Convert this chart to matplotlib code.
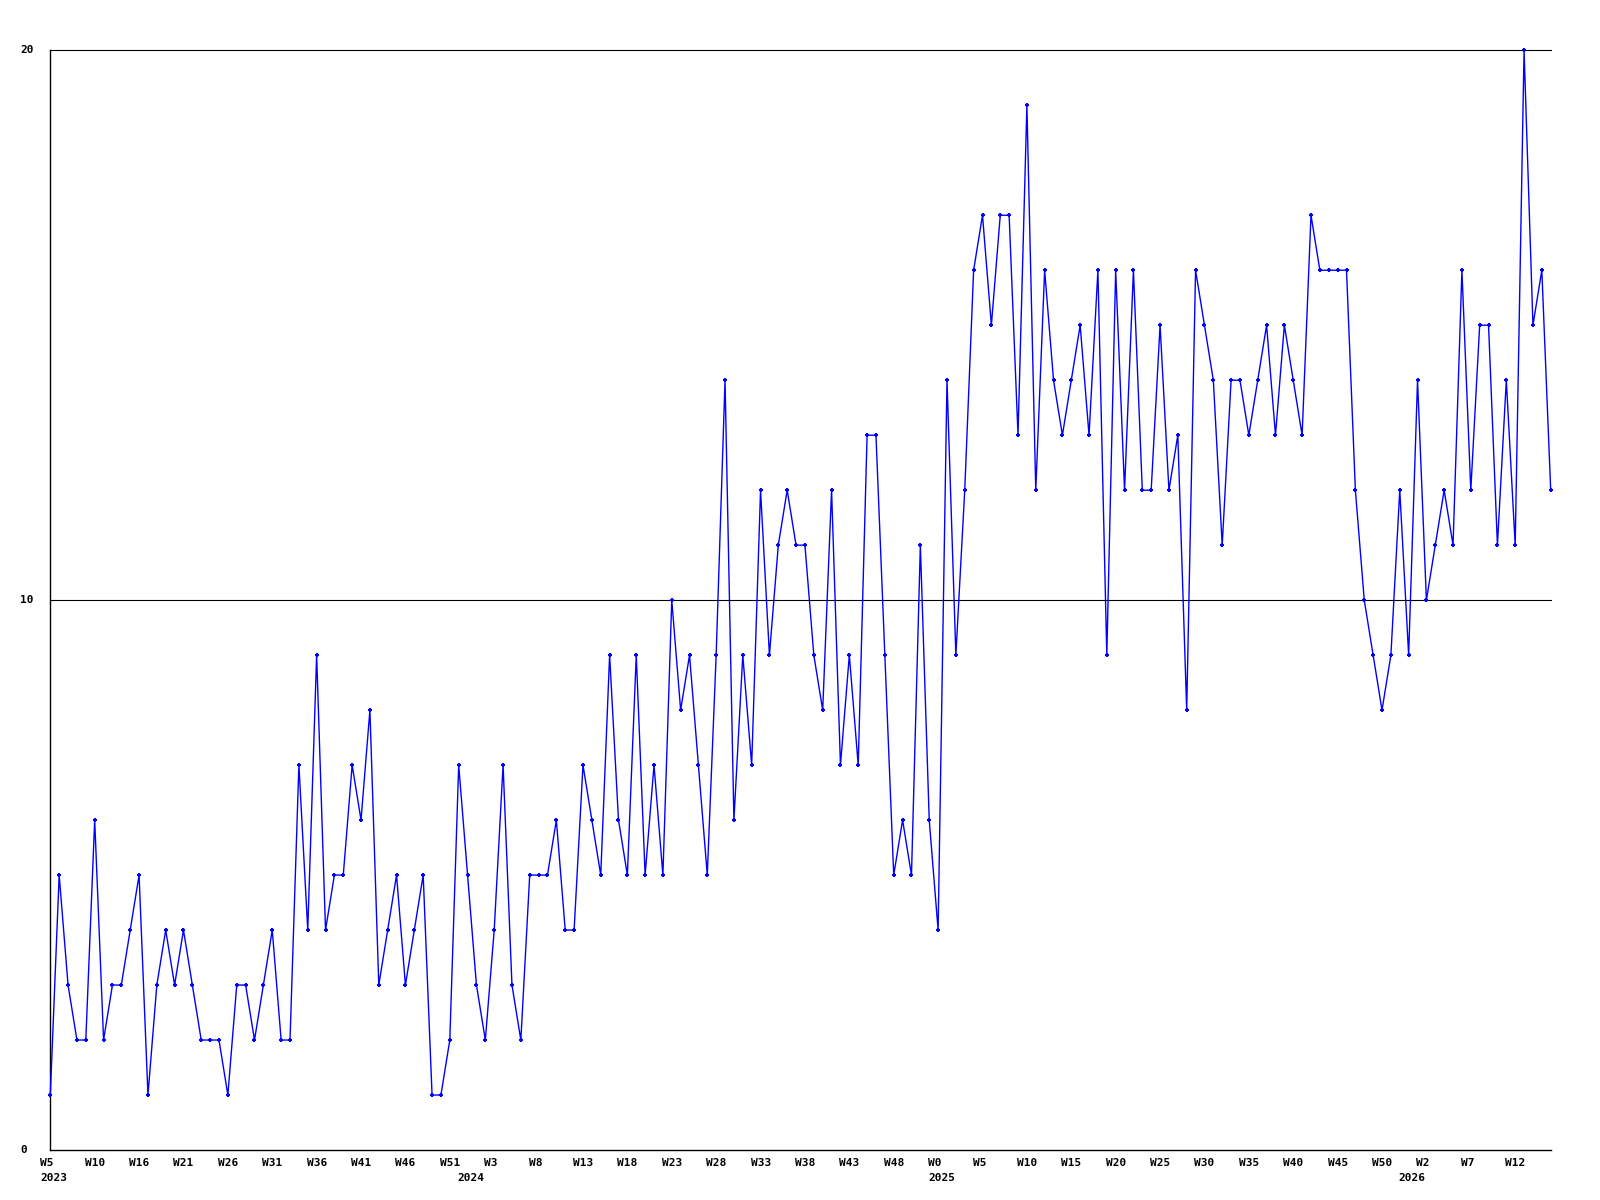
import matplotlib
matplotlib.use("Agg")
import numpy as np
import matplotlib.pyplot as plt

# weekly counts, 2023 W5 .. 2026 W15
values = [1, 5, 3, 2, 2, 6, 2, 3, 3, 4, 5, 1, 3, 4, 3, 4, 3, 2, 2, 2,
          1, 3, 3, 2, 3, 4, 2, 2, 7, 4,
          9, 4, 5, 5, 7, 6, 8, 3, 4, 5, 3, 4, 5, 1, 1, 2, 7, 5, 3, 2,
          4, 7, 3, 2, 5, 5, 5, 6, 4,
          4, 7, 6, 5, 9, 6, 5, 9, 5, 7, 5, 10, 8, 9, 7, 5, 9, 14, 6, 9,
          7, 12, 9, 11, 12, 11, 11, 9, 8,
          12, 7, 9, 7, 13, 13, 9, 5, 6, 5, 11, 6, 4, 14, 9, 12, 16, 17, 15,
          17, 17, 13, 19, 12, 16, 14, 13, 14, 15, 13,
          16, 9, 16, 12, 16, 12, 12, 15, 12, 13, 8, 16, 15, 14, 11, 14, 14,
          13, 14, 15, 13, 15, 14, 13, 17, 16, 16, 16, 16,
          12, 10, 9, 8, 9, 12, 9, 14, 10, 11, 12, 11, 16, 12, 15, 15, 11,
          14, 11, 20, 15, 16, 12]

week_labels = ["W5", "W10", "W16", "W21", "W26", "W31", "W36", "W41", "W46", "W51",
               "W3", "W8", "W13", "W18", "W23", "W28", "W33", "W38", "W43", "W48",
               "W0", "W5", "W10", "W15", "W20", "W25", "W30", "W35", "W40", "W45",
               "W50", "W2", "W7", "W12"]
week_step = 5

years = ["2023", "2024", "2025", "2026"]
year_start = [0, 47, 100, 153]

y_ticks = [0, 10, 20]

W, H = 1600, 1200
fig = plt.figure(figsize=(16, 12), dpi=100)
left, right, top, bottom = 50.3, 1550.7, 50.3, 1150
ax = fig.add_axes([left / W, 1 - bottom / H, (right - left) / W, (bottom - top) / H])

x = np.arange(len(values))
ax.set_xlim(0, len(values) - 1)
ax.set_ylim(0, 20)

for yv in y_ticks[1:]:
    ax.axhline(yv, color="black", lw=0.8, clip_on=False, zorder=1)

ax.plot(x, values, color="#0000ff", lw=1.0, marker="+", markersize=3.5,
        markeredgewidth=1.5, zorder=3, clip_on=False)

for s in ["top", "right"]:
    ax.spines[s].set_visible(False)
for s in ["left", "bottom"]:
    ax.spines[s].set_color("black")
    ax.spines[s].set_linewidth(1.0)

ax.set_xticks([])
ax.set_yticks([])

font = dict(family="DejaVu Sans Mono", weight="bold", size=8, color="black")

for yv in y_ticks:
    ax.annotate(str(yv), xy=(0, yv), xycoords=("axes fraction", "data"),
                xytext=(-30, 0), textcoords="offset pixels",
                ha="left", va="center", annotation_clip=False, **font)

for i, lab in enumerate(week_labels):
    ax.annotate(lab, xy=(i * week_step, 0), xycoords=("data", "axes fraction"),
                xytext=(-10, -8), textcoords="offset pixels",
                ha="left", va="top", annotation_clip=False, **font)

for yr, idx in zip(years, year_start):
    ax.annotate(yr, xy=(idx, 0), xycoords=("data", "axes fraction"),
                xytext=(-10, -23), textcoords="offset pixels",
                ha="left", va="top", annotation_clip=False, **font)

fig.savefig("out.png", dpi=100, facecolor="white")
